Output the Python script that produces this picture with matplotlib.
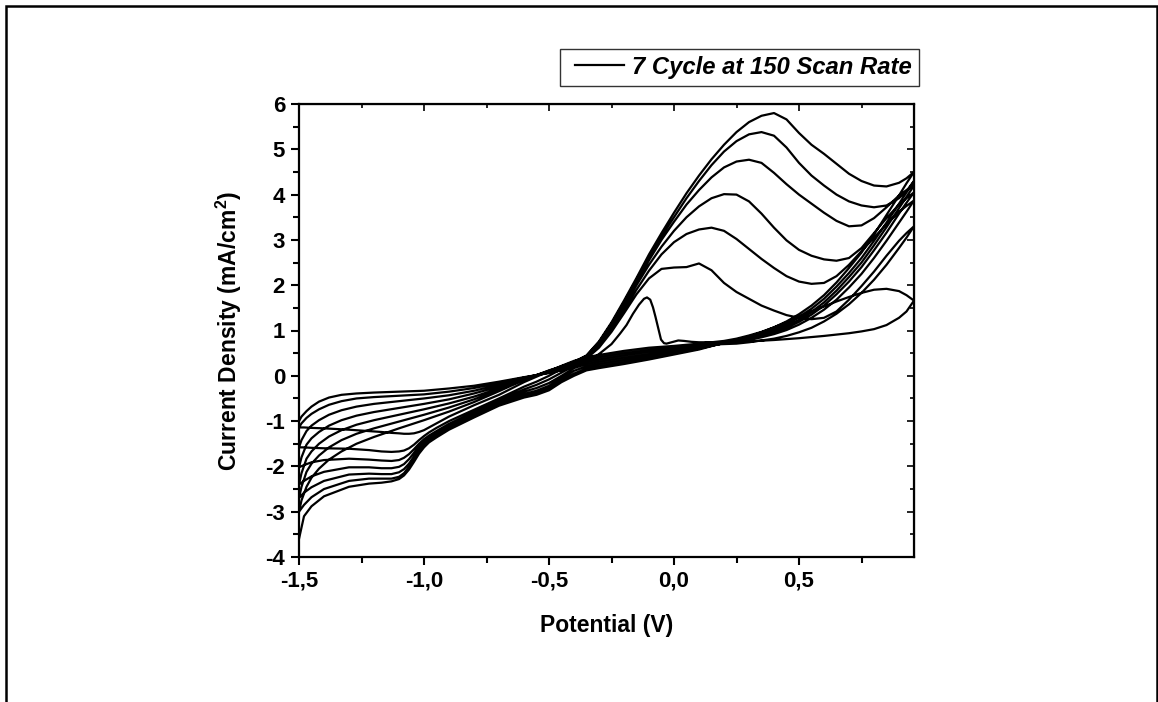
import matplotlib
matplotlib.use("Agg")
import matplotlib.pyplot as plt
from matplotlib.ticker import MultipleLocator, FuncFormatter
from matplotlib.patches import Rectangle
from matplotlib.lines import Line2D
from matplotlib.legend_handler import HandlerLine2D

plt.rcParams['font.family'] = ['Liberation Sans', 'DejaVu Sans']
plt.rcParams['font.weight'] = 'bold'
plt.rcParams['axes.unicode_minus'] = False
plt.rcParams['mathtext.fontset'] = 'custom'
plt.rcParams['mathtext.rm'] = 'Liberation Sans:bold'
plt.rcParams['mathtext.bf'] = 'Liberation Sans:bold'
plt.rcParams['mathtext.it'] = 'Liberation Sans:bold:italic'

# ---------------- data (potential in V, current density in mA/cm2) ----------------
legend_label = "7 Cycle at 150 Scan Rate"
x_ticks = [-1.5, -1.0, -0.5, 0.0, 0.5]
y_ticks = [-4, -3, -2, -1, 0, 1, 2, 3, 4, 5, 6]

# forward scans, left part (-1.5 .. -0.4 V), one row per cycle
fwd_left_v = [-1.5, -1.49, -1.47, -1.45, -1.42, -1.38, -1.33, -1.27, -1.2, -1.1,
              -1.0, -0.9, -0.8, -0.7, -0.6, -0.5, -0.45, -0.4]
fwd_left_i = [
    [-1.0, -0.9, -0.78, -0.68, -0.57, -0.48, -0.42, -0.39, -0.37, -0.35, -0.33, -0.28, -0.22, -0.13, -0.03, 0.06, 0.12, 0.2],
    [-1.14, -1.05, -0.93, -0.84, -0.74, -0.64, -0.56, -0.5, -0.47, -0.44, -0.41, -0.35, -0.27, -0.16, -0.04, 0.07, 0.13, 0.22],
    [-1.58, -1.42, -1.22, -1.1, -0.98, -0.86, -0.76, -0.68, -0.62, -0.56, -0.5, -0.43, -0.33, -0.2, -0.05, 0.08, 0.15, 0.24],
    [-2.02, -1.8, -1.52, -1.38, -1.24, -1.1, -0.98, -0.88, -0.8, -0.71, -0.62, -0.52, -0.39, -0.24, -0.06, 0.09, 0.17, 0.26],
    [-2.4, -2.15, -1.83, -1.67, -1.5, -1.34, -1.2, -1.08, -0.98, -0.86, -0.74, -0.61, -0.46, -0.28, -0.07, 0.1, 0.19, 0.28],
    [-2.7, -2.45, -2.12, -1.94, -1.76, -1.58, -1.42, -1.28, -1.16, -1.01, -0.86, -0.7, -0.52, -0.31, -0.08, 0.11, 0.2, 0.3],
    [-3.0, -2.75, -2.45, -2.25, -2.05, -1.85, -1.67, -1.5, -1.35, -1.16, -0.98, -0.79, -0.58, -0.34, -0.09, 0.12, 0.21, 0.31],
]

# forward scan of cycle 1 (sharp stripping peak), right part
fwd1_right_v = [-0.35, -0.3, -0.25, -0.216, -0.19, -0.164, -0.14, -0.12, -0.108, -0.095, -0.084,
                -0.074, -0.064, -0.052, -0.04, -0.03, -0.01, 0.017, 0.04, 0.07, 0.1, 0.2, 0.3,
                0.4, 0.5, 0.6, 0.7, 0.75, 0.8, 0.85, 0.9, 0.93, 0.96]
fwd1_right_i = [0.3, 0.48, 0.7, 0.93, 1.12, 1.37, 1.57, 1.7, 1.73, 1.68, 1.51,
                1.3, 1.07, 0.8, 0.72, 0.71, 0.74, 0.78, 0.77, 0.75, 0.74, 0.74, 0.76,
                0.79, 0.83, 0.88, 0.94, 0.98, 1.03, 1.12, 1.28, 1.42, 1.66]

# forward scans of cycles 2-7, right part (-0.35 .. 0.96 V)
fwd_right_v = [-0.35, -0.3, -0.25, -0.2, -0.15, -0.1, -0.05, 0.0, 0.05, 0.1, 0.15, 0.2, 0.25, 0.3,
               0.35, 0.4, 0.45, 0.5, 0.55, 0.6, 0.65, 0.7, 0.75, 0.8, 0.85, 0.9, 0.93, 0.96]
fwd_right_i = [
    [0.38, 0.62, 0.97, 1.38, 1.8, 2.15, 2.36, 2.39, 2.4, 2.48, 2.33, 2.05, 1.85, 1.7,
     1.55, 1.44, 1.34, 1.28, 1.25, 1.28, 1.42, 1.68, 1.98, 2.3, 2.65, 2.98, 3.15, 3.3],
    [0.4, 0.66, 1.02, 1.45, 1.9, 2.32, 2.68, 2.95, 3.13, 3.23, 3.27, 3.2, 3.02, 2.8,
     2.58, 2.38, 2.2, 2.08, 2.03, 2.05, 2.2, 2.45, 2.75, 3.05, 3.35, 3.62, 3.75, 3.87],
    [0.42, 0.7, 1.08, 1.53, 2.0, 2.45, 2.85, 3.2, 3.5, 3.74, 3.92, 4.01, 4.0, 3.85,
     3.58, 3.27, 2.99, 2.78, 2.65, 2.57, 2.54, 2.6, 2.82, 3.15, 3.48, 3.78, 3.92, 4.05],
    [0.43, 0.72, 1.12, 1.58, 2.07, 2.55, 3.0, 3.4, 3.78, 4.1, 4.38, 4.6, 4.73, 4.77,
     4.7, 4.48, 4.23, 4.0, 3.8, 3.6, 3.42, 3.3, 3.32, 3.48, 3.72, 3.98, 4.1, 4.2],
    [0.44, 0.74, 1.15, 1.62, 2.12, 2.62, 3.08, 3.5, 3.92, 4.3, 4.65, 4.95, 5.18, 5.33,
     5.38, 5.3, 5.04, 4.7, 4.42, 4.2, 4.0, 3.85, 3.76, 3.72, 3.76, 3.92, 4.08, 4.3],
    [0.45, 0.76, 1.18, 1.66, 2.16, 2.68, 3.15, 3.6, 4.03, 4.42, 4.78, 5.1, 5.38, 5.6,
     5.74, 5.8, 5.66, 5.36, 5.1, 4.9, 4.68, 4.46, 4.3, 4.2, 4.18, 4.26, 4.36, 4.5],
]

# reverse scans, right part (0.96 .. -0.35 V)
rev_right_v = [0.96, 0.93, 0.9, 0.85, 0.8, 0.75, 0.7, 0.65, 0.6, 0.55, 0.5, 0.45, 0.4, 0.35,
               0.3, 0.25, 0.2, 0.1, 0.0, -0.1, -0.2, -0.3, -0.35]
rev_right_i = [
    [1.66, 1.78, 1.87, 1.92, 1.9, 1.83, 1.74, 1.64, 1.53, 1.42, 1.3, 1.18, 1.07, 0.97, 0.89, 0.82, 0.77, 0.71, 0.66, 0.62, 0.55, 0.46, 0.41],
    [3.3, 3.05, 2.82, 2.45, 2.12, 1.83, 1.58, 1.37, 1.2, 1.06, 0.96, 0.88, 0.82, 0.78, 0.74, 0.71, 0.7, 0.68, 0.62, 0.57, 0.5, 0.41, 0.36],
    [3.87, 3.62, 3.38, 2.98, 2.6, 2.25, 1.95, 1.68, 1.46, 1.28, 1.13, 1.01, 0.92, 0.85, 0.79, 0.75, 0.72, 0.66, 0.59, 0.53, 0.45, 0.36, 0.31],
    [4.05, 3.82, 3.58, 3.16, 2.77, 2.4, 2.08, 1.8, 1.55, 1.35, 1.19, 1.06, 0.96, 0.88, 0.81, 0.76, 0.72, 0.64, 0.56, 0.48, 0.4, 0.31, 0.26],
    [4.2, 3.95, 3.7, 3.28, 2.88, 2.5, 2.18, 1.88, 1.62, 1.41, 1.24, 1.1, 0.99, 0.9, 0.83, 0.77, 0.72, 0.62, 0.53, 0.44, 0.35, 0.26, 0.21],
    [4.3, 4.05, 3.8, 3.38, 2.98, 2.6, 2.27, 1.97, 1.7, 1.48, 1.3, 1.15, 1.03, 0.93, 0.85, 0.78, 0.72, 0.6, 0.5, 0.4, 0.3, 0.21, 0.16],
    [4.5, 4.25, 3.98, 3.55, 3.12, 2.72, 2.38, 2.06, 1.78, 1.55, 1.36, 1.2, 1.07, 0.96, 0.87, 0.8, 0.73, 0.58, 0.47, 0.36, 0.26, 0.17, 0.12],
]

# reverse scans, left part (-0.4 .. -1.5 V)
rev_left_v = [-0.4, -0.45, -0.5, -0.55, -0.6, -0.7, -0.8, -0.9, -0.95, -0.98, -1.0, -1.02,
              -1.04, -1.06, -1.08, -1.1, -1.13, -1.17, -1.22, -1.3, -1.4, -1.45, -1.48, -1.5]
rev_left_i = [
    [0.33, 0.22, 0.1, -0.02, -0.14, -0.42, -0.65, -0.9, -1.05, -1.14, -1.2, -1.24, -1.27, -1.28, -1.28, -1.27, -1.26, -1.24, -1.22, -1.19, -1.16, -1.15, -1.14, -1.14],
    [0.28, 0.15, 0.0, -0.13, -0.24, -0.5, -0.75, -1.0, -1.15, -1.25, -1.33, -1.42, -1.52, -1.6, -1.65, -1.67, -1.68, -1.67, -1.64, -1.61, -1.6, -1.59, -1.58, -1.58],
    [0.22, 0.07, -0.08, -0.2, -0.3, -0.54, -0.8, -1.06, -1.22, -1.32, -1.4, -1.5, -1.62, -1.73, -1.81, -1.86, -1.88, -1.87, -1.85, -1.83, -1.86, -1.91, -1.97, -2.02],
    [0.17, 0.0, -0.16, -0.27, -0.35, -0.57, -0.83, -1.1, -1.27, -1.37, -1.45, -1.56, -1.7, -1.84, -1.95, -2.01, -2.04, -2.04, -2.02, -2.02, -2.12, -2.22, -2.32, -2.4],
    [0.11, -0.05, -0.22, -0.33, -0.4, -0.6, -0.86, -1.13, -1.3, -1.4, -1.5, -1.62, -1.78, -1.94, -2.06, -2.13, -2.17, -2.17, -2.16, -2.18, -2.32, -2.46, -2.58, -2.7],
    [0.05, -0.1, -0.27, -0.37, -0.44, -0.63, -0.89, -1.16, -1.33, -1.44, -1.54, -1.67, -1.84, -2.01, -2.15, -2.23, -2.27, -2.27, -2.27, -2.32, -2.5, -2.68, -2.85, -3.0],
    [0.0, -0.14, -0.32, -0.42, -0.48, -0.66, -0.92, -1.19, -1.36, -1.47, -1.58, -1.72, -1.9, -2.07, -2.2, -2.28, -2.33, -2.36, -2.38, -2.45, -2.66, -2.88, -3.1, -3.6],
]

# ---------------- figure ----------------
W, H = 1158, 702
fig = plt.figure(figsize=(W / 100, H / 100), dpi=100)
ax = fig.add_axes([299 / W, 1 - 557 / H, (914 - 299) / W, (557 - 104) / H])

pot, cur = [], []
for k in range(7):
    if k == 0:
        pot += fwd_left_v + fwd1_right_v
        cur += fwd_left_i[k] + fwd1_right_i
    else:
        pot += fwd_left_v + fwd_right_v
        cur += fwd_left_i[k] + fwd_right_i[k - 1]
    pot += rev_right_v + rev_left_v
    cur += rev_right_i[k] + rev_left_i[k]

ax.plot(pot, cur, color='black', lw=1.6, solid_joinstyle='round', label=legend_label)

ax.set_xlim(-1.5, 0.96)
ax.set_ylim(-4, 6)
ax.set_xticks(x_ticks)
ax.set_yticks(y_ticks)
ax.xaxis.set_minor_locator(MultipleLocator(0.25))
ax.yaxis.set_minor_locator(MultipleLocator(0.5))
ax.xaxis.set_major_formatter(FuncFormatter(lambda v, p: f"{v:.1f}".replace('.', ',').replace('-0,0', '0,0')))
ax.yaxis.set_major_formatter(FuncFormatter(lambda v, p: f"{int(round(v))}"))
ax.tick_params(which='major', direction='out', length=6, width=1.5, labelsize=16, pad=4)
ax.tick_params(which='minor', direction='out', length=4, width=1.5)
for s in ax.spines.values():
    s.set_linewidth(1.6)

top = ax.secondary_xaxis('top')
top.set_xticks(x_ticks)
top.xaxis.set_minor_locator(MultipleLocator(0.25))
top.tick_params(which='both', direction='in', labeltop=False, width=1.2)
top.tick_params(which='major', length=5)
top.tick_params(which='minor', length=3)
right = ax.secondary_yaxis('right')
right.set_yticks(y_ticks)
right.yaxis.set_minor_locator(MultipleLocator(0.5))
right.tick_params(which='both', direction='in', labelright=False, width=1.2)
right.tick_params(which='major', length=5)
right.tick_params(which='minor', length=3)

ax.set_xlabel("Potential (V)", fontsize=16.5, fontweight='bold')
ax.set_ylabel(r"Current Density (mA/cm$^{\mathbf{2}}$)", fontsize=16.5, fontweight='bold')
ax.xaxis.set_label_coords(0.5, -0.125)
ax.yaxis.set_label_coords(-0.09, 0.5)

leg = ax.legend(loc='lower right', bbox_to_anchor=(919 / W, 1 - 86 / H),
                bbox_transform=fig.transFigure, frameon=True, fancybox=False,
                borderpad=0.3, handlelength=2.35, handletextpad=0.35, borderaxespad=0,
                handler_map={Line2D: HandlerLine2D(xpad=0.3)},
                prop={'family': 'Liberation Sans', 'weight': 'bold', 'style': 'italic', 'size': 17.2})
leg.get_frame().set_edgecolor('black')
leg.get_frame().set_linewidth(1.0)

fig.patches.append(Rectangle((6 / W, -0.05), (1157 - 6) / W, 1.05 - 6 / H,
                             transform=fig.transFigure, fill=False, lw=1.8,
                             edgecolor='black', clip_on=False))

fig.savefig("out.png", dpi=100)
